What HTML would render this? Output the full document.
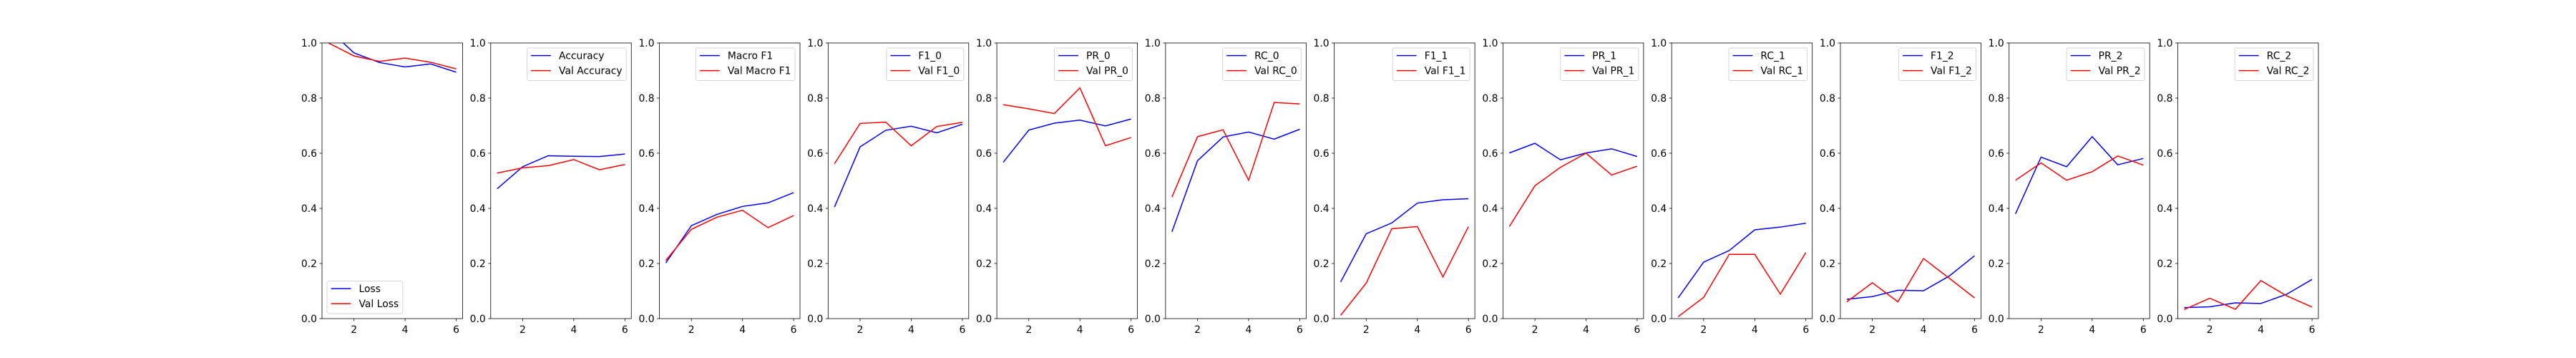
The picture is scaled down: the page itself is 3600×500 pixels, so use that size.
<!DOCTYPE html>
<html><head><meta charset="utf-8">
<style>
html,body{margin:0;padding:0;background:#fff;}
svg{display:block;font-family:"DejaVu Sans","Liberation Sans",sans-serif;}
</style></head>
<body>
<svg id="fig" width="3600" height="500" xmlns="http://www.w3.org/2000/svg"></svg>
<script>
const epochs = [1,2,3,4,5,6];
const panelTitles = ["Loss","Accuracy","Macro F1","F1_0","PR_0","RC_0","F1_1","PR_1","RC_1","F1_2","PR_2","RC_2"];
const trainLoss = [1.05,0.964,0.929,0.913,0.924,0.894];
const valLoss = [1.0,0.953,0.933,0.945,0.930,0.906];
const trainAcc = [0.471,0.551,0.591,0.589,0.588,0.597];
const valAcc = [0.528,0.547,0.555,0.577,0.540,0.559];
const trainMacroF1 = [0.202,0.337,0.378,0.407,0.420,0.457];
const valMacroF1 = [0.211,0.324,0.368,0.393,0.330,0.374];
const trainF1_0 = [0.405,0.623,0.683,0.698,0.674,0.705];
const valF1_0 = [0.562,0.708,0.713,0.627,0.697,0.712];
const trainPR_0 = [0.567,0.684,0.709,0.720,0.699,0.724];
const valPR_0 = [0.776,0.761,0.744,0.837,0.627,0.657];
const trainRC_0 = [0.315,0.573,0.659,0.677,0.651,0.687];
const valRC_0 = [0.441,0.660,0.685,0.502,0.784,0.779];
const trainF1_1 = [0.133,0.308,0.347,0.419,0.431,0.435];
const valF1_1 = [0.012,0.129,0.326,0.334,0.151,0.334];
const trainPR_1 = [0.601,0.636,0.576,0.601,0.616,0.588];
const valPR_1 = [0.334,0.482,0.549,0.600,0.521,0.553];
const trainRC_1 = [0.075,0.205,0.247,0.322,0.332,0.346];
const valRC_1 = [0.007,0.077,0.233,0.233,0.089,0.240];
const trainF1_2 = [0.070,0.080,0.103,0.101,0.154,0.228];
const valF1_2 = [0.061,0.130,0.061,0.218,0.147,0.075];
const trainPR_2 = [0.380,0.586,0.551,0.660,0.558,0.581];
const valPR_2 = [0.502,0.565,0.502,0.533,0.590,0.557];
const trainRC_2 = [0.040,0.043,0.057,0.055,0.088,0.142];
const valRC_2 = [0.033,0.074,0.034,0.138,0.083,0.042];
const yTicks = [0,0.2,0.4,0.6,0.8,1.0];
const yTickLabels = ["0.0","0.2","0.4","0.6","0.8","1.0"];
const xTicks = [2,4,6];

const trainSeries = [trainLoss,trainAcc,trainMacroF1,trainF1_0,trainPR_0,trainRC_0,trainF1_1,trainPR_1,trainRC_1,trainF1_2,trainPR_2,trainRC_2];
const valSeries = [valLoss,valAcc,valMacroF1,valF1_0,valPR_0,valRC_0,valF1_1,valPR_1,valRC_1,valF1_2,valPR_2,valRC_2];

const NS = "http://www.w3.org/2000/svg";
const svg = document.getElementById('fig');
const W = 3600, H = 500;
const L = 0.125*W, R = 0.9*W, B = 0.89*H, T = 0.12*H;
const n = panelTitles.length;
const aw = (R-L)/(n + (n-1)*0.2), gap = aw*0.2;
const FS = 13.9;
const ctx = document.createElement('canvas').getContext('2d');
ctx.font = FS + 'px "DejaVu Sans"';
function mk(tag, attrs, parent){const e=document.createElementNS(NS,tag);for(const k in attrs)e.setAttribute(k,attrs[k]);(parent||svg).appendChild(e);return e;}

for(let p=0;p<n;p++){
  const x0 = L + p*(aw+gap), x1 = x0+aw;
  const xs = v => x0 + (v-0.75)/5.5*aw;
  const ys = v => B - v*(B-T);
  const g = mk('g',{});
  
  
  const cid = 'clip'+p;
  const cp = mk('clipPath',{id:cid},g);
  mk('rect',{x:x0,y:T,width:aw,height:B-T},cp);
  // ticks
  yTicks.forEach((t,i)=>{
    const y = ys(t);
    mk('line',{x1:x0-3.5,x2:x0,y1:y,y2:y,stroke:'#000','stroke-width':0.8},g);
    const tx = mk('text',{x:x0-7,y:y+5,'text-anchor':'end','font-size':FS,fill:'#000'},g);
    tx.textContent = yTickLabels[i];
    
    
  });
  xTicks.forEach(t=>{
    const x = xs(t);
    mk('line',{x1:x,x2:x,y1:B,y2:B+3.5,stroke:'#000','stroke-width':0.8},g);
    const tx = mk('text',{x:x,y:B+20,'text-anchor':'middle','font-size':FS,fill:'#000'},g);
    tx.textContent = String(t);
    
    
  });
  // lines
  const pts = arr => arr.map((v,i)=>xs(epochs[i]).toFixed(2)+','+ys(v).toFixed(2)).join(' ');
  const lt = mk('polyline',{points:pts(trainSeries[p]),fill:'none',stroke:'#0000ff','stroke-width':1.5,'clip-path':'url(#'+cid+')'},g);
  
  
  const lv = mk('polyline',{points:pts(valSeries[p]),fill:'none',stroke:'#ff0000','stroke-width':1.5,'clip-path':'url(#'+cid+')'},g);
  
  
  // frame
  mk('rect',{x:x0,y:T,width:aw,height:B-T,fill:'none',stroke:'#000','stroke-width':0.8},g);
  // legend
  const labels = [panelTitles[p], 'Val ' + panelTitles[p]];
  const tw = Math.max(...labels.map(s=>ctx.measureText(s).width));
  const lw = 5.6 + 27.8 + 11.1 + tw + 5.6, lh = 45.5;
  let lx, ly;
  if(p===0){ lx = x0+7; ly = B-7-lh; } else { lx = x1-7-lw; ly = T+7; }
  const lg = mk('g',{},g);
  
  
  mk('rect',{x:lx,y:ly,width:lw,height:lh,rx:2.5,fill:'#fff','fill-opacity':0.8,stroke:'#d5d5d5','stroke-width':1},lg);
  ['#0000ff','#ff0000'].forEach((c,i)=>{
    const cy = ly + 10.6 + i*21;
    const e = mk('g',{},lg);
    
    
    mk('line',{x1:lx+5.6,x2:lx+5.6+27.8,y1:cy,y2:cy,stroke:c,'stroke-width':1.5},e);
    const tx = mk('text',{x:lx+5.6+27.8+11.1,y:cy+5,'font-size':FS,fill:'#000'},e);
    tx.textContent = labels[i];
  });
}
</script>
</body></html>
